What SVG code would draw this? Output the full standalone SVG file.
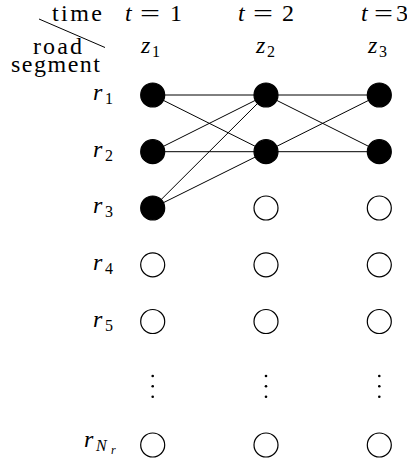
<svg xmlns="http://www.w3.org/2000/svg" width="407" height="466" viewBox="0 0 407 466">
<style>
text{font-size:24px;fill:#000}
.i{font-style:italic}
.s{font-size:16px}
.ss{font-size:12px;font-style:italic}
.on{fill:#000;stroke:#000;stroke-width:1.2}
.off{fill:#fff;stroke:#000;stroke-width:1.2}
#edges line{stroke:#000;stroke-width:1}
</style>
<rect width="407" height="466" fill="#fff"/>
<g id="header" font-family="Liberation Serif, Times New Roman, serif">
<line x1="39" y1="19" x2="105" y2="47.5" stroke="#000" stroke-width="1"/>
<text x="52" y="21" textLength="50">time</text>
<text x="33" y="54" textLength="49">road</text>
<text x="11" y="72" textLength="89" font-size="23">segment</text>
<text x="125" y="21" class="i">t</text><text x="140" y="21" textLength="20" lengthAdjust="spacingAndGlyphs">=</text><text x="170" y="21">1</text>
<text x="238" y="21" class="i">t</text><text x="253" y="21" textLength="20" lengthAdjust="spacingAndGlyphs">=</text><text x="282" y="21">2</text>
<text x="361" y="21" class="i">t</text><text x="374" y="21" textLength="19" lengthAdjust="spacingAndGlyphs">=</text><text x="396" y="21">3</text>
<text x="141" y="53" class="i">z</text><text x="152" y="57" class="s">1</text>
<text x="256" y="53" class="i">z</text><text x="267" y="57" class="s">2</text>
<text x="368" y="53" class="i">z</text><text x="379" y="57" class="s">3</text>
</g>
<g id="row-labels" font-family="Liberation Serif, Times New Roman, serif">
<text x="93" y="100" class="i">r</text><text x="105" y="104" class="s">1</text>
<text x="93" y="157" class="i">r</text><text x="105" y="161" class="s">2</text>
<text x="93" y="213" class="i">r</text><text x="105" y="217" class="s">3</text>
<text x="93" y="270" class="i">r</text><text x="105" y="274" class="s">4</text>
<text x="93" y="327" class="i">r</text><text x="105" y="331" class="s">5</text>
<text x="84" y="447" class="i">r</text><text x="96" y="451" class="s i">N</text><text x="111" y="454" class="ss">r</text>
</g>
<g id="edges">
<line x1="152.7" y1="95" x2="266" y2="95"/>
<line x1="152.7" y1="95" x2="266" y2="151.7"/>
<line x1="152.7" y1="151.7" x2="266" y2="95"/>
<line x1="152.7" y1="151.7" x2="266" y2="151.7"/>
<line x1="152.7" y1="208" x2="266" y2="95"/>
<line x1="152.7" y1="208" x2="266" y2="151.7"/>
<line x1="266" y1="95" x2="379.3" y2="95"/>
<line x1="266" y1="95" x2="379.3" y2="151.7"/>
<line x1="266" y1="151.7" x2="379.3" y2="95"/>
<line x1="266" y1="151.7" x2="379.3" y2="151.7"/>
</g>
<g id="n-1-1"><circle class="on" cx="152.7" cy="95" r="12"/></g>
<g id="n-1-2"><circle class="on" cx="152.7" cy="151.7" r="12"/></g>
<g id="n-1-3"><circle class="on" cx="152.7" cy="208" r="12"/></g>
<g id="n-1-4"><circle class="off" cx="152.7" cy="264.8" r="12"/></g>
<g id="n-1-5"><circle class="off" cx="152.7" cy="321.5" r="12"/></g>
<g id="n-1-N"><circle class="off" cx="152.7" cy="445" r="12"/></g>
<g id="n-2-1"><circle class="on" cx="266" cy="95" r="12"/></g>
<g id="n-2-2"><circle class="on" cx="266" cy="151.7" r="12"/></g>
<g id="n-2-3"><circle class="off" cx="266" cy="208" r="12"/></g>
<g id="n-2-4"><circle class="off" cx="266" cy="264.8" r="12"/></g>
<g id="n-2-5"><circle class="off" cx="266" cy="321.5" r="12"/></g>
<g id="n-2-N"><circle class="off" cx="266" cy="445" r="12"/></g>
<g id="n-3-1"><circle class="on" cx="379.3" cy="95" r="12"/></g>
<g id="n-3-2"><circle class="on" cx="379.3" cy="151.7" r="12"/></g>
<g id="n-3-3"><circle class="off" cx="379.3" cy="208" r="12"/></g>
<g id="n-3-4"><circle class="off" cx="379.3" cy="264.8" r="12"/></g>
<g id="n-3-5"><circle class="off" cx="379.3" cy="321.5" r="12"/></g>
<g id="n-3-N"><circle class="off" cx="379.3" cy="445" r="12"/></g>
<g id="vdots">
<circle cx="152.7" cy="376" r="1.3"/><circle cx="152.7" cy="386.3" r="1.3"/><circle cx="152.7" cy="396.7" r="1.3"/>
<circle cx="266" cy="376" r="1.3"/><circle cx="266" cy="386.3" r="1.3"/><circle cx="266" cy="396.7" r="1.3"/>
<circle cx="379.3" cy="376" r="1.3"/><circle cx="379.3" cy="386.3" r="1.3"/><circle cx="379.3" cy="396.7" r="1.3"/>
</g>
</svg>
